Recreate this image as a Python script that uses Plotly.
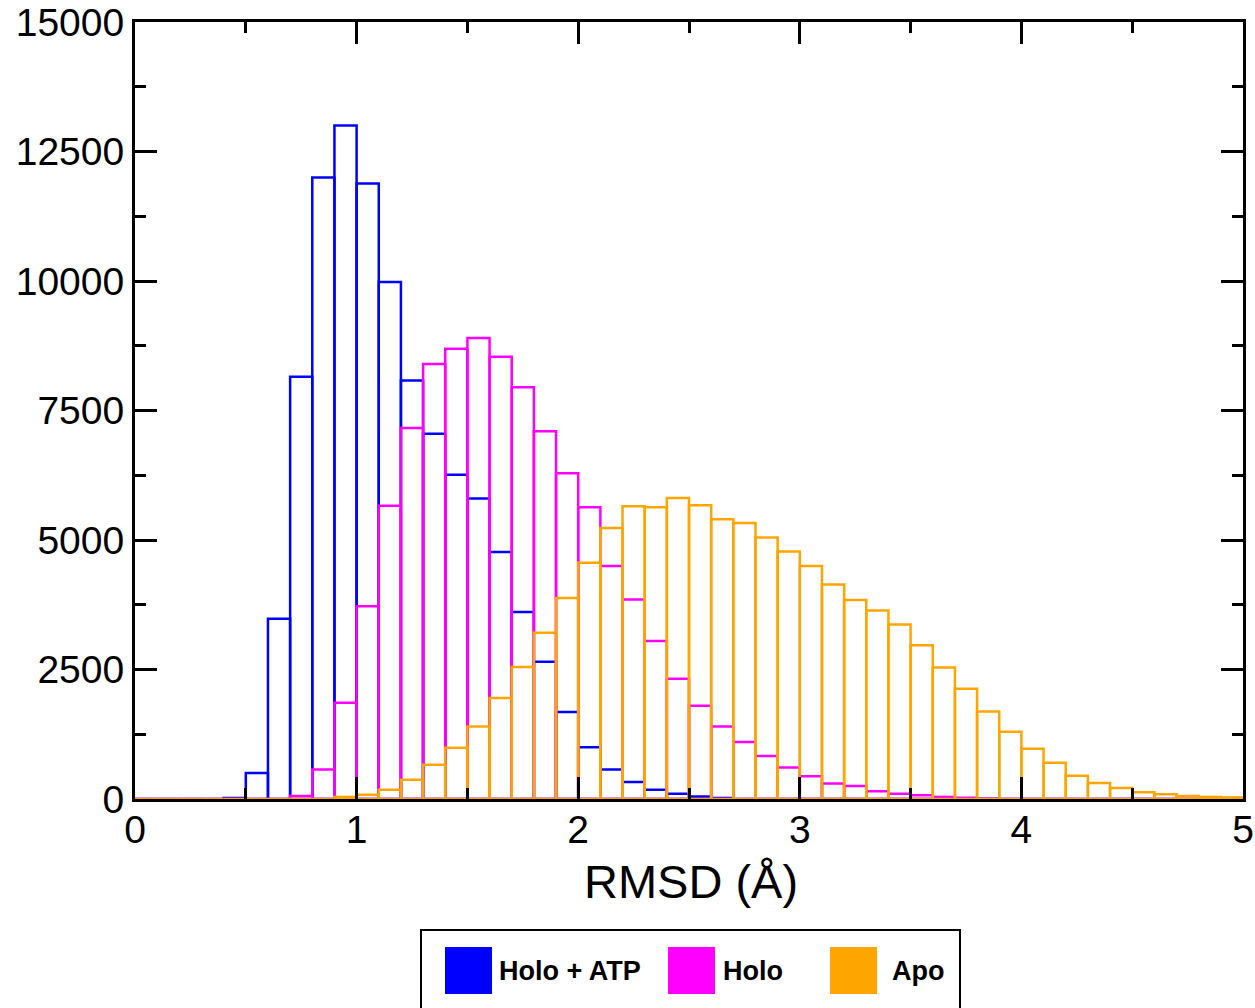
import plotly.graph_objects as go

# bin edges start at 0.0 with width 0.1, 50 bins up to 5.0
bin_width = 0.1
bin_starts = [round(i * 0.1, 1) for i in range(50)]

holo_atp = [0, 0, 0, 0, 20, 500, 3480, 8150, 12000, 13000,
            11880, 9980, 8080, 7050, 6260, 5800, 4770, 3610, 2650, 1680,
            1000, 570, 330, 180, 100, 50, 20, 0, 0, 0,
            0, 0, 0, 0, 0, 0, 0, 0, 0, 0,
            0, 0, 0, 0, 0, 0, 0, 0, 0, 0]

holo = [0, 0, 0, 0, 0, 0, 0, 60, 570, 1860,
        3720, 5660, 7160, 8400, 8690, 8900, 8540, 7950, 7100, 6290,
        5630, 4500, 3850, 3050, 2320, 1800, 1400, 1100, 830, 610,
        440, 300, 250, 150, 100, 70, 40, 25, 10, 0,
        0, 0, 0, 0, 0, 0, 0, 0, 0, 0]

apo = [0, 0, 0, 0, 0, 0, 0, 0, 0, 40,
       80, 180, 370, 660, 990, 1400, 1950, 2550, 3210, 3880,
       4560, 5230, 5650, 5630, 5810, 5670, 5400, 5330, 5050, 4780,
       4500, 4140, 3840, 3640, 3370, 2970, 2540, 2130, 1690, 1300,
       970, 700, 450, 310, 210, 130, 90, 60, 40, 30]

series_names = ["Holo + ATP", "Holo", "Apo"]
series_colors = ["#0000ff", "#ff00ff", "#ffa500"]
series_values = [holo_atp, holo, apo]

x_ticks = [0, 1, 2, 3, 4, 5]
y_ticks = [0, 2500, 5000, 7500, 10000, 12500, 15000]

centers = [s + bin_width / 2 for s in bin_starts]

fig = go.Figure()
for name, color, vals in zip(series_names, series_colors, series_values):
    fig.add_trace(go.Bar(
        x=centers, y=vals, width=bin_width, name=name,
        marker=dict(color="rgba(0,0,0,0)", line=dict(color=color, width=2.5)),
        showlegend=False,
    ))

W, H = 1255, 1008
ml, mr, mt, mb = 135, 12, 22, 209
pw, ph = W - ml - mr, H - mt - mb

def px_x(p):
    return (p - ml) / pw

def px_y(p):
    return (H - mb - p) / ph

font_family = "Liberation Sans, Arial, Helvetica, sans-serif"

axis_common = dict(
    showline=True, linecolor="black", linewidth=3, mirror="allticks",
    ticks="inside", ticklen=22, tickwidth=2.5, tickcolor="black",
    showgrid=False, zeroline=False, automargin=False,
    tickfont=dict(family=font_family, size=39, color="black"),
)

fig.update_xaxes(
    range=[0, 5], tickvals=x_ticks, ticktext=[str(v) for v in x_ticks],
    minor=dict(ticks="inside", ticklen=11, tickwidth=2.5, tickcolor="black", dtick=0.5, showgrid=False),
    ticklabelstandoff=-6,
    **axis_common,
)
fig.update_yaxes(
    range=[0, 15000], tickvals=y_ticks, ticktext=[str(v) for v in y_ticks],
    minor=dict(ticks="inside", ticklen=11, tickwidth=2.5, tickcolor="black", dtick=1250, showgrid=False),
    **axis_common,
)

# legend box drawn by hand
shapes = [dict(type="rect", xref="paper", yref="paper",
               x0=px_x(421), x1=px_x(960), y0=px_y(1012), y1=px_y(930),
               line=dict(color="black", width=2), fillcolor="white", layer="above")]
legend_items = [(445, 497), (668, 721), (830, 890)]
annotations = [dict(xref="paper", yref="paper", x=px_x(691), y=px_y(881),
                    xanchor="center", yanchor="middle", showarrow=False,
                    text="RMSD (Å)",
                    font=dict(family=font_family, size=47, color="black"))]
for (sx, tx), name, color in zip(legend_items, series_names, series_colors):
    shapes.append(dict(type="rect", xref="paper", yref="paper",
                       x0=px_x(sx), x1=px_x(sx + 47), y0=px_y(994), y1=px_y(947),
                       line=dict(width=0), fillcolor=color, layer="above"))
    annotations.append(dict(xref="paper", yref="paper", x=px_x(tx), y=px_y(971),
                            xanchor="left", yanchor="middle", showarrow=False,
                            text="<b>" + name + "</b>",
                            font=dict(family=font_family, size=27, color="black")))

fig.update_layout(
    width=W, height=H, barmode="overlay",
    margin=dict(l=ml, r=mr, t=mt, b=mb, pad=0),
    plot_bgcolor="white", paper_bgcolor="white",
    shapes=shapes, annotations=annotations,
    showlegend=False,
)

fig.write_html("out.html")
